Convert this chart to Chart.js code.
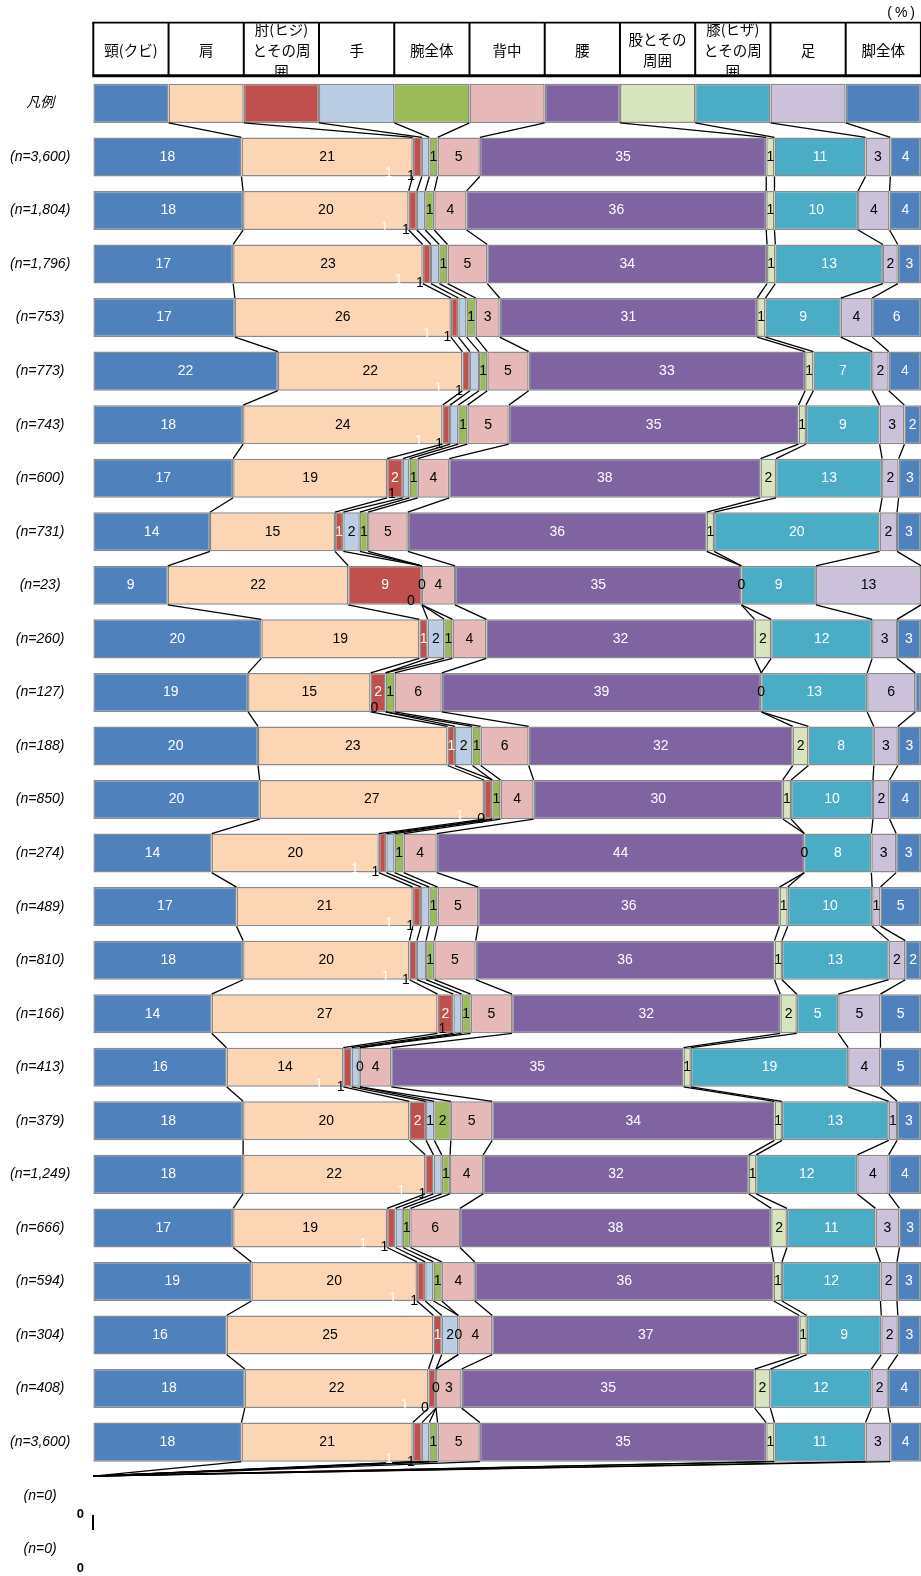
<!DOCTYPE html>
<html>
<head>
<meta charset="utf-8">
<script src="https://cdn.jsdelivr.net/npm/chart.js@4.4.1/dist/chart.umd.min.js"></script>
<style>
  html, body { margin: 0; padding: 0; background: #fff; }
  canvas { display: block; }
</style>
</head>
<body>
<canvas id="chart" width="921" height="1576"></canvas>
<script>
// Row labels: legend row, 25 respondent groups, two empty groups
const categories = ['凡例', '(n=3,600)', '(n=1,804)', '(n=1,796)', '(n=753)', '(n=773)', '(n=743)',
  '(n=600)', '(n=731)', '(n=23)', '(n=260)', '(n=127)', '(n=188)', '(n=850)', '(n=274)', '(n=489)',
  '(n=810)', '(n=166)', '(n=413)', '(n=379)', '(n=1,249)', '(n=666)', '(n=594)', '(n=304)', '(n=408)',
  '(n=3,600)', '(n=0)', '(n=0)'];

// Body parts (one stacked series each)
const partNames = ['頸(クビ)', '肩', '肘(ヒジ)とその周囲', '手', '腕全体', '背中', '腰',
  '股とその周囲', '膝(ヒザ)とその周囲', '足', '脚全体'];

// Shares in % per row (first entry = equal legend swatch, last two = empty groups)
const neck     = [9.09, 17.9, 18.1, 16.9, 17.1, 22.3, 18.1, 16.9, 14.1, 9.0, 20.3, 18.7, 19.9, 20.1, 14.3, 17.3, 18.1, 14.3, 16.1, 18.1, 18.1, 16.9, 19.1, 16.1, 18.3, 17.9, 0, 0];
const shoulder = [9.09, 20.7, 20.0, 22.9, 26.1, 22.3, 24.1, 18.6, 15.1, 21.8, 19.1, 14.8, 22.9, 27.1, 20.2, 21.3, 20.1, 27.3, 14.1, 20.1, 22.0, 18.6, 20.0, 25.0, 22.2, 20.7, 0, 0];
const elbow    = [9.09, 1.1, 1.0, 1.0, 0.9, 0.9, 0.9, 1.9, 1.0, 8.9, 1.0, 1.8, 0.9, 1.0, 0.9, 1.0, 0.9, 1.9, 1.0, 2.0, 1.0, 1.0, 1.0, 1.0, 0.9, 1.1, 0, 0];
const hand     = [9.09, 0.9, 1.0, 1.0, 1.0, 1.1, 1.0, 0.8, 2.0, 0, 2.0, 0, 2.1, 0, 1.0, 1.0, 1.1, 1.0, 1.0, 1.0, 1.0, 0.9, 1.0, 2.0, 0, 0.9, 0, 0];
const arm      = [9.09, 1.0, 1.1, 1.0, 1.1, 1.0, 1.1, 1.0, 1.0, 0, 1.0, 1.1, 1.0, 1.0, 1.1, 1.0, 1.0, 1.1, 0, 2.0, 1.0, 0.9, 1.0, 0, 0, 1.0, 0, 0];
const back     = [9.09, 5.1, 3.9, 4.8, 2.9, 5.0, 5.0, 3.8, 4.8, 4.0, 4.1, 5.7, 5.8, 4.0, 4.0, 4.9, 5.0, 5.0, 3.8, 5.0, 4.0, 6.0, 4.0, 4.1, 3.1, 5.1, 0, 0];
const waist    = [9.09, 34.6, 36.2, 33.8, 31.1, 33.4, 35.0, 37.6, 36.1, 34.6, 32.4, 38.6, 31.9, 30.1, 44.4, 36.4, 36.1, 32.4, 35.3, 34.1, 32.1, 37.6, 36.1, 37.1, 35.4, 34.6, 0, 0];
const hip      = [9.09, 1.0, 1.0, 1.0, 1.0, 1.0, 0.9, 1.9, 0.9, 0, 2.0, 0, 1.9, 1.0, 0, 1.0, 0.9, 2.0, 0.9, 0.9, 0.9, 1.9, 1.0, 0.9, 1.9, 1.0, 0, 0];
const knee     = [9.09, 11.0, 10.1, 13.0, 9.1, 7.1, 8.9, 12.8, 20.0, 9.0, 12.2, 12.8, 7.9, 9.9, 8.1, 10.2, 12.9, 5.0, 19.0, 12.9, 12.2, 10.7, 11.9, 9.0, 12.2, 11.0, 0, 0];
const foot     = [9.09, 3.0, 3.8, 1.8, 3.8, 2.0, 3.0, 2.0, 2.1, 12.7, 3.0, 5.8, 2.9, 2.0, 3.0, 1.0, 2.0, 5.1, 3.9, 1.0, 3.8, 2.9, 2.0, 2.0, 2.0, 3.0, 0, 0];
const leg      = [9.09, 3.7, 3.8, 2.8, 5.9, 3.9, 2.0, 2.7, 2.9, 0, 2.9, 0.7, 2.8, 3.8, 3.0, 4.9, 1.9, 4.9, 4.9, 2.9, 3.9, 2.6, 2.9, 2.8, 4.0, 3.7, 0, 0];

const partColors = ['#4F81BD', '#FCD5B5', '#C0504D', '#B9CDE5', '#9BBB59', '#E6B9B8',
  '#8064A2', '#D7E4BD', '#4BACC6', '#CCC1DA', '#4F81BD'];
const whiteText = [true, false, true, false, false, false, true, false, true, false, true];
const unitText = '(%)';

const seriesValues = [neck, shoulder, elbow, hand, arm, back, waist, hip, knee, foot, leg];
const ELBOW = 2, HAND = 3;

const LABEL_FONT = '14px "Liberation Sans", Arial, sans-serif';
const HEAD_FONT = '14.5px "Noto Sans CJK JP", sans-serif';

// Connector lines between the ends of each part in neighbouring rows
const seriesLines = {
  id: 'seriesLines',
  afterDatasetsDraw(chart) {
    const ctx = chart.ctx;
    ctx.save();
    ctx.strokeStyle = '#000';
    ctx.lineWidth = 1.3;
    for (let k = 0; k < seriesValues.length - 1; k++) {
      const els = chart.getDatasetMeta(k).data;
      for (let i = 0; i < categories.length - 1; i++) {
        const a = els[i], b = els[i + 1];
        ctx.beginPath();
        ctx.moveTo(a.x, a.y + a.height / 2);
        ctx.lineTo(b.x, b.y - b.height / 2);
        ctx.stroke();
      }
    }
    ctx.restore();
  }
};

// Value labels; narrow elbow/hand labels are pushed below-left of their bar
const valueLabels = {
  id: 'valueLabels',
  afterDatasetsDraw(chart) {
    const ctx = chart.ctx, area = chart.chartArea;
    ctx.save();
    ctx.textAlign = 'center';
    ctx.textBaseline = 'middle';
    for (let i = 1; i < categories.length; i++) {
      const total = seriesValues.reduce((s, arr) => s + arr[i], 0);
      if (total === 0) {
        const el = chart.getDatasetMeta(0).data[i];
        ctx.font = 'bold 13px "Liberation Sans", Arial, sans-serif';
        ctx.fillStyle = '#000';
        ctx.fillText('0', area.left - 13, el.y + 19);
        continue;
      }
      ctx.font = LABEL_FONT;
      const elbowOut = elbow[i] < 1.5 && hand[i] < 1.5;
      const handOut = hand[i] < 1.5 && arm[i] < 1.5;
      seriesValues.forEach((arr, k) => {
        const el = chart.getDatasetMeta(k).data[i];
        const left = Math.min(el.x, el.base), right = Math.max(el.x, el.base);
        const bottom = el.y + el.height / 2;
        let tx = (left + right) / 2, ty = el.y;
        if (k === ELBOW && elbowOut) { tx = left - 24; ty = bottom - 3; }
        else if (k === HAND && handOut) { tx = left - 11; ty = bottom + (elbowOut ? 0 : -4); }
        else if (tx > area.right - 5) return;
        ctx.fillStyle = whiteText[k] ? '#fff' : '#000';
        ctx.fillText(String(Math.round(arr[i])), tx, ty);
      });
    }
    ctx.restore();
  }
};

// Part-name header table above the legend row
const partHeader = {
  id: 'partHeader',
  afterDraw(chart) {
    const ctx = chart.ctx, xs = chart.scales.x, area = chart.chartArea;
    const top = 22.7, bottom = 75.7;
    const edges = [xs.getPixelForValue(0)];
    let cum = 0;
    seriesValues.forEach(arr => { cum += arr[0]; edges.push(xs.getPixelForValue(cum)); });
    ctx.save();
    ctx.font = HEAD_FONT;
    ctx.fillStyle = '#000';
    ctx.textAlign = 'center';
    ctx.textBaseline = 'middle';
    partNames.forEach((name, k) => {
      const l = edges[k], r = Math.min(edges[k + 1], chart.width);
      const lines = [];
      let cur = '';
      for (const ch of name) {
        if (cur && ctx.measureText(cur + ch).width > 62) { lines.push(cur); cur = ch; }
        else cur += ch;
      }
      if (cur) lines.push(cur);
      ctx.save();
      ctx.beginPath();
      ctx.rect(l + 1, top + 1, r - l - 2, bottom - top - 2.5);
      ctx.clip();
      const step = 21, cy = 50;
      lines.forEach((ln, j) => {
        ctx.fillText(ln, (l + edges[k + 1]) / 2, cy + (j - (lines.length - 1) / 2) * step);
      });
      ctx.restore();
    });
    ctx.strokeStyle = '#000';
    ctx.lineWidth = 2;
    edges.forEach(x => {
      ctx.beginPath(); ctx.moveTo(x, top); ctx.lineTo(x, bottom); ctx.stroke();
    });
    ctx.lineWidth = 1.8;
    ctx.beginPath(); ctx.moveTo(edges[0] - 1, top); ctx.lineTo(chart.width, top); ctx.stroke();
    ctx.lineWidth = 3;
    ctx.beginPath(); ctx.moveTo(edges[0] - 1, bottom); ctx.lineTo(chart.width, bottom); ctx.stroke();
    ctx.font = '14px "Liberation Sans", Arial, sans-serif';
    ctx.textAlign = 'right';
    if ('letterSpacing' in ctx) ctx.letterSpacing = '3px';
    ctx.fillText(unitText, 918, 13.5);
    ctx.restore();
  }
};

new Chart(document.getElementById('chart'), {
  type: 'bar',
  data: {
    labels: categories,
    datasets: partNames.map((name, k) => ({
      label: name,
      data: seriesValues[k],
      backgroundColor: partColors[k],
      borderColor: '#8a8a8a',
      borderWidth: 1.5,
      borderSkipped: false,
      barPercentage: 0.73,
      categoryPercentage: 1
    }))
  },
  options: {
    indexAxis: 'y',
    responsive: false,
    animation: false,
    devicePixelRatio: 1,
    layout: { padding: { top: 76.6, right: 0, bottom: 0, left: 0 } },
    plugins: { legend: { display: false }, tooltip: { enabled: false }, title: { display: false } },
    scales: {
      x: { stacked: true, min: 0, max: 100, display: false },
      y: {
        stacked: true,
        grid: { display: false, drawTicks: false },
        border: { display: false },
        afterFit(scale) {
          scale.width = 93.3;
          scale.paddingTop = 0;
          scale.paddingBottom = 0;
        },
        ticks: {
          crossAlign: 'center',
          padding: 23,
          color: '#000',
          font: { family: '"Liberation Sans", Arial, "Noto Sans CJK JP", sans-serif', size: 14, style: 'italic' }
        }
      }
    }
  },
  plugins: [seriesLines, valueLabels, partHeader]
});
</script>
</body>
</html>
